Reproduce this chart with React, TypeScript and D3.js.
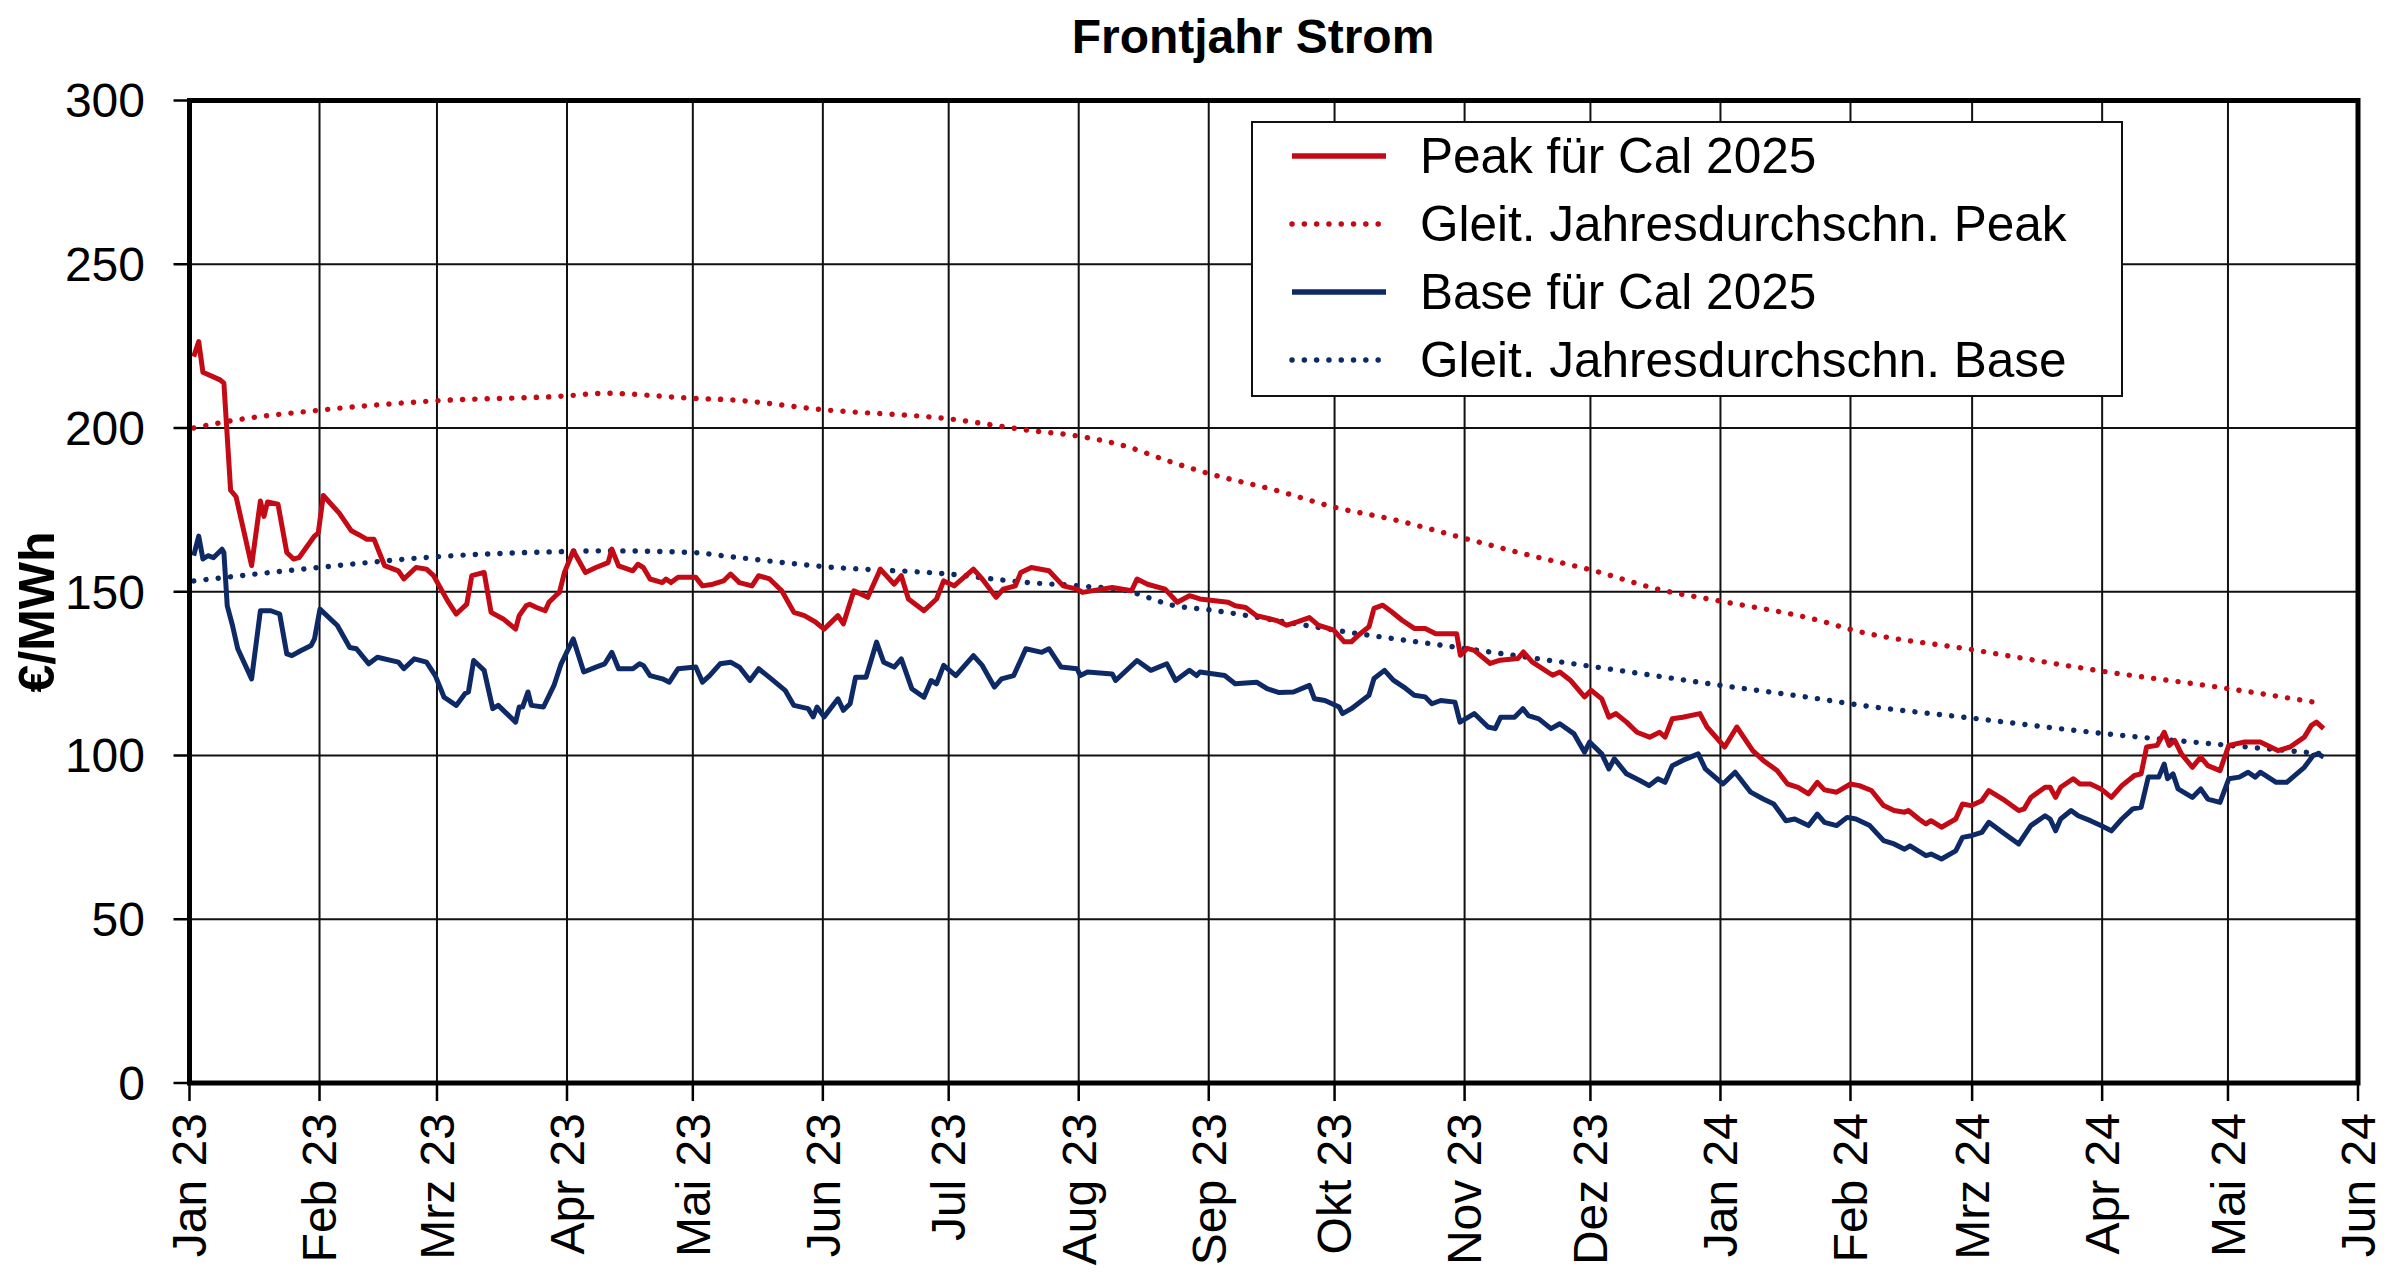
import React from "react";
import * as d3 from "d3";

// ---------- data ----------
// x values are days since 2023-01-01 (UTC), y values in €/MWh
const START = new Date(Date.UTC(2023, 0, 1));
const END = new Date(Date.UTC(2024, 5, 1));

const monthLabels = [
  "Jan 23", "Feb 23", "Mrz 23", "Apr 23", "Mai 23", "Jun 23", "Jul 23", "Aug 23", "Sep 23",
  "Okt 23", "Nov 23", "Dez 23", "Jan 24", "Feb 24", "Mrz 24", "Apr 24", "Mai 24", "Jun 24",
];
const yTicks = [0, 50, 100, 150, 200, 250, 300];

const peakSeries: [number, number][] = [
  [1, 221.8], [2.2, 226.4], [3.2, 217], [7.3, 214.7], [8.2, 213.7], [9.8, 181], [11.1, 179], [14.8, 158],
  [16.9, 177.7], [17.75, 173], [18.6, 177.4], [21.1, 176.7], [23.2, 162], [24.8, 160], [26.1, 160.4],
  [29.8, 167], [30.7, 168], [31.9, 179.4], [35.7, 174], [38.6, 168.6], [40.25, 167.5], [42.3, 166],
  [44, 166], [46.5, 158], [49.8, 156.4], [51.1, 153.9], [54, 157.4], [56.5, 156.9], [58.2, 154.9],
  [61.5, 147.3], [63.6, 143.2], [66.1, 146.2], [67.3, 154.9], [70.25, 155.9], [71.9, 143.7], [74.8, 141.7],
  [77.75, 138.6], [78.6, 142.7], [80.25, 145.7], [81.1, 146.2], [82.75, 145.2], [84.8, 144.2], [85.7, 146.8],
  [87.3, 148.8], [88.2, 149.8], [89.4, 155.9], [91.5, 162.5], [94.4, 155.9], [96.9, 157.4], [99.8, 158.9],
  [100.7, 163], [102.3, 157.9], [105.7, 156.4], [106.9, 158.4], [108.2, 157.4], [109.8, 153.9],
  [112.75, 152.8], [113.6, 153.9], [114.8, 152.8], [116.5, 154.4], [120.7, 154.4], [122.3, 151.8],
  [124.8, 152.3], [127.3, 153.3], [129, 155.4],
  [131.1, 152.8], [134.1, 151.8], [135.7, 154.9], [138.3, 153.9], [141.2, 150.3], [144.1, 143.7],
  [146.6, 142.7], [149.3, 140.7], [151.3, 138.6], [154.6, 142.7], [155.9, 140.2], [158.4, 150.3],
  [161.7, 148.3], [164.7, 156.9], [168, 152.3], [169.7, 154.9], [171.4, 147.8], [175.1, 144.2],
  [178.1, 147.8], [179.8, 153.3], [182.3, 151.8], [186.9, 156.9], [189, 153.9], [192.3, 148.3],
  [194, 150.8], [196.9, 151.8], [198.2, 155.9], [200.7, 157.4], [204.9, 156.4], [208.3, 151.8],
  [211.6, 150.8], [212.9, 149.8], [220, 151.3], [224.6, 150.3], [225.9, 153.9], [228.4, 152.3],
  [232.6, 150.8], [235.5, 146.8], [238.4, 148.8], [240.9, 147.8], [247.6, 146.8], [249.3, 145.7],
  [251.8, 145.2], [254.4, 142.7], [259.2, 141.2],
  [261.6, 139.8], [264.1, 140.8], [267, 142.1], [269.1, 139.8], [272.8, 138.3], [275.3, 134.7],
  [277, 134.7], [279.1, 137.2], [281.2, 139.3], [282.4, 144.9], [284.5, 145.9], [286.6, 143.9],
  [289.1, 141.3], [292, 138.8], [294.6, 138.8], [297.1, 137.2], [302.1, 137.2], [303, 130.6],
  [304.6, 132.7], [306.3, 132.1], [310.1, 128.1], [312.5, 129.1], [316.7, 129.6], [318, 131.6],
  [320.1, 128.6], [323.8, 125.5], [325, 124.5], [326.7, 125.5], [329.2, 123], [332.6, 117.9],
  [334.2, 119.9], [336.7, 117.3], [338.4, 111.7], [340.1, 112.8], [342.6, 110.2], [345.1, 107.1],
  [348.1, 105.6], [350.5, 107.1], [351.8, 105.6], [353.5, 111.2], [356, 111.7], [360.1, 112.8],
  [361.8, 108.7], [366, 102.6], [368.9, 108.7], [372.7, 101.5], [375.2, 98.5], [378.5, 95.4],
  [381, 91.3], [383.5, 90.3], [386, 88.3], [388.1, 91.8], [389.8, 89.5],
  [392.7, 88.8], [396, 91.3], [398.1, 90.8], [401, 89.3], [403.9, 84.7], [406.4, 83.2], [408.9, 82.7],
  [409.8, 83.2], [412.3, 80.6], [414, 79.1], [415.2, 80.1], [417.7, 78.1], [421.1, 80.6], [422.7, 85.2],
  [424.8, 84.7], [427.3, 86.2], [429, 89.3], [432.3, 86.7], [436.1, 83.2], [437.4, 83.7], [439, 87.2],
  [442.4, 90.3], [443.6, 90.3], [444.9, 87.2], [446.1, 90.3], [449.1, 92.9], [450.7, 91.3],
  [453.2, 91.3], [455.7, 89.8], [458.2, 87.2], [460.7, 90.8], [463.7, 93.9], [465.3, 94.4],
  [466.6, 102.6], [469.1, 103.1], [470.8, 107.1], [472, 103.1], [473.3, 104.6], [474.9, 100.5],
  [477.5, 96.4], [479.5, 99.5], [481.2, 96.9], [484.1, 95.4], [486.2, 103.1], [490, 104.1],
  [493.7, 104.1], [497.9, 101.5], [500.8, 102.6], [504.2, 105.6], [505.9, 109.2], [507.1, 110.2],
  [508.8, 108.2],
];

const baseSeries: [number, number][] = [
  [1, 161], [2.2, 167], [3.2, 160], [4.4, 161], [5.7, 160.4], [7.75, 163], [8.2, 162], [9, 145.7],
  [10.25, 139.7], [11.5, 132.6], [14.8, 123.4], [16.9, 144.2], [19.4, 144.2], [21.5, 143.2], [23.2, 131],
  [24.4, 130.5], [26.5, 132], [29, 133.6], [29.8, 135.6], [31.1, 144.7], [35.25, 139.7], [38.2, 133],
  [39.8, 132.6], [42.75, 128], [44.8, 130], [49.8, 128.5], [51.1, 126.5], [53.6, 129.5], [56.5, 128.5],
  [58.6, 124.4], [60.7, 117.8], [63.6, 115.3], [65.7, 118.9], [66.5, 119.4], [67.75, 129], [70.25, 126],
  [72.3, 114.3], [73.6, 115.3], [77.75, 110.2], [78.6, 114.8], [79.4, 114.8], [80.7, 119.4], [81.5, 115.3],
  [84.4, 114.8], [86.9, 121.4], [88.6, 128], [91.5, 135.6], [94, 125.5], [96.9, 127], [99, 128],
  [100.7, 131.5], [102.3, 126.5], [105.7, 126.5], [107.3, 128], [108.2, 127.5], [109.8, 124.4],
  [112.75, 123.4], [114.4, 122.4], [116.5, 126.5], [120.7, 127], [122.3, 122.4], [124, 124.4],
  [126.5, 128], [129, 128.5],
  [131.1, 127], [133.6, 122.9], [135.7, 126.5], [138.7, 123.4], [142, 119.9], [144.1, 115.3],
  [147.5, 114.3], [148.7, 111.8], [149.6, 114.8], [151.3, 111.8], [154.6, 117.3], [155.9, 113.8],
  [157.5, 115.8], [158.8, 123.9], [161.3, 123.9], [163.8, 134.6], [165.5, 128.5], [168, 127],
  [169.7, 129.5], [172.2, 120.4], [175.1, 117.8], [176.8, 122.9], [178.1, 121.9], [179.8, 127.5],
  [182.7, 124.4], [186.9, 130.5], [189, 127.5], [191.9, 120.9], [193.6, 123.4], [196.5, 124.4],
  [199.4, 132.6], [203.2, 131.5], [204.9, 132.6], [207.8, 127], [211.6, 126.5], [212.4, 124.4],
  [214.1, 125.5], [220, 124.9], [220.8, 122.9], [225.9, 129], [229.2, 126], [233, 128], [235.1, 122.9],
  [238.4, 126], [240.1, 124.4], [240.9, 125.5], [246.8, 124.4], [249.3, 121.9], [254.4, 122.4],
  [256.9, 120.4], [259.8, 119.2],
  [263.2, 119.4], [267, 121.4], [268.2, 117.3], [270.7, 116.8], [274.1, 114.8], [274.9, 112.8],
  [277, 114.3], [281.2, 118.4], [282.4, 123.5], [284.9, 126], [287, 123], [289.5, 120.9], [292, 118.4],
  [294.6, 117.9], [296.2, 115.8], [298.3, 116.8], [301.7, 116.3], [302.9, 110.2], [306.3, 112.8],
  [309.6, 108.7], [311.3, 108.2], [312.6, 111.7], [315.9, 111.7], [317.9, 114.3], [319.2, 112.2],
  [321.7, 111.2], [324.6, 108.2], [326.7, 109.7], [330.1, 106.6], [332.6, 101], [333.8, 104.1],
  [336.7, 100.5], [338.4, 95.9], [339.7, 99], [342.6, 94.4], [345.9, 92.3], [348, 90.8], [350.1, 92.9],
  [351.8, 91.8], [353.5, 96.9], [356, 98.5], [359.7, 100.5], [361.4, 95.9], [365.6, 91.3], [368.5, 94.9],
  [372.2, 88.8], [375.2, 86.7], [377.7, 85.2], [380.6, 80.1], [382.7, 80.6], [386, 78.6], [388.1, 82.1],
  [389.8, 79.6],
  [392.7, 78.6], [395.2, 81.1], [397.3, 80.6], [400.6, 78.6], [403.9, 74], [406.4, 73], [408.9, 71.4],
  [410.2, 72.4], [414, 69.4], [415.2, 69.9], [417.7, 68.4], [421.1, 70.9], [422.7, 75], [424.8, 75.5],
  [427.3, 76.5], [429, 79.6], [432.3, 76.5], [436.1, 73], [439, 78.6], [442.4, 81.6], [443.6, 80.6],
  [444.9, 77], [446.1, 80.6], [448.6, 83.2], [450.3, 81.6], [453.2, 80.1], [455.7, 78.6], [458.2, 77],
  [460.7, 80.6], [463.3, 83.7], [465.3, 84.2], [467, 93.4], [469.5, 93.4], [470.8, 97.4], [471.6, 92.9],
  [472.9, 94.4], [474.1, 89.8], [477.5, 87.2], [479.5, 89.8], [481.2, 86.7], [484.1, 85.7], [486.2, 92.9],
  [488.7, 93.4], [490.8, 94.9], [492.5, 93.4], [493.7, 94.9], [497.5, 91.8], [500, 91.8], [504.2, 96.4],
  [506.3, 100], [507.5, 100.5], [508.8, 99.5],
];

const peakAvgSeries: [number, number][] = [
  [1, 200], [9, 202], [30.7, 205.4], [58.6, 208.3], [89.8, 209.8], [99, 210.6], [119.8, 209.1],
  [129, 208.6], [151, 205.6], [181, 202.8], [200.7, 199.2], [212, 197.5], [223.3, 194.4], [233.4, 189.9],
  [243, 186.1], [259.2, 180.9], [273, 175.8], [287.5, 171.9], [304, 166.3], [319.3, 161.2],
  [334.3, 156.6], [351, 150.5], [365.2, 147.1], [389.2, 141], [396, 138.5], [425, 132.3],
  [455.7, 125.8], [486.2, 120.4], [508.8, 115.8],
];

const baseAvgSeries: [number, number][] = [
  [1, 153.3], [30.7, 157.4], [59, 160.7], [89.8, 162.3], [99, 162.5], [119.8, 162], [129, 160.7],
  [151, 157.7], [181, 155.4], [199.9, 152.8], [212, 151.8], [223.3, 150.3], [235, 145.7], [243, 144.5],
  [259.2, 141.2], [273, 138.3], [304, 132.7], [334.3, 127.2], [365.2, 121.4], [389.5, 117.1],
  [396, 115.8], [425, 111.4], [455.7, 106.8], [486.2, 103.1], [508.8, 100.5],
];

const legendLabels = [
  "Peak für Cal 2025",
  "Gleit. Jahresdurchschn. Peak",
  "Base für Cal 2025",
  "Gleit. Jahresdurchschn. Base",
];

// ---------- styling ----------
const RED = "#C40A14";
const NAVY = "#0E2A66";
const FONT = "'Liberation Sans', Arial, Helvetica, sans-serif";
const DOT = { strokeWidth: 5.4, strokeDasharray: "0.1 12.2", strokeLinecap: "round" as const };

export default function App() {
  const W = 2400;
  const H = 1281;
  const left = 189.5;
  const right = 2358;
  const top = 100.5;
  const bottom = 1083;

  const x = d3.scaleUtc().domain([START, END]).range([left, right]);
  const y = d3.scaleLinear().domain([0, 300]).range([bottom, top]);
  const toDate = (d: number) => new Date(START.getTime() + d * 86400000);

  const line = d3
    .line<[number, number]>()
    .x((d) => x(toDate(d[0])))
    .y((d) => y(d[1]));
  const smooth = d3
    .line<[number, number]>()
    .x((d) => x(toDate(d[0])))
    .y((d) => y(d[1]))
    .curve(d3.curveMonotoneX);

  const months = d3.utcMonth.range(START, d3.utcMonth.offset(END, 1));

  const series = [
    { label: legendLabels[0], color: RED, dotted: false },
    { label: legendLabels[1], color: RED, dotted: true },
    { label: legendLabels[2], color: NAVY, dotted: false },
    { label: legendLabels[3], color: NAVY, dotted: true },
  ];

  const lgX = 1252;
  const lgY = 122;
  const lgW = 870;
  const lgH = 274;
  const rowH = 68;

  return (
    <svg
      width={W}
      height={H}
      viewBox={`0 0 ${W} ${H}`}
      style={{ position: "absolute", left: 0, top: 0, background: "#fff" }}
      fontFamily={FONT}
    >
      <rect x={0} y={0} width={W} height={H} fill="#fff" />

      {/* title */}
      <text x={1253} y={53} textAnchor="middle" fontSize={48} fontWeight="bold" fill="#000">
        Frontjahr Strom
      </text>

      {/* horizontal grid */}
      {yTicks.slice(1, -1).map((t) => (
        <line key={"hg" + t} x1={left} x2={right} y1={y(t)} y2={y(t)} stroke="#111" strokeWidth={2} />
      ))}
      {/* vertical grid */}
      {months.slice(1, -1).map((m, i) => (
        <line key={"vg" + i} x1={x(m)} x2={x(m)} y1={top} y2={bottom} stroke="#111" strokeWidth={2} />
      ))}

      {/* y ticks + labels */}
      {yTicks.map((t) => (
        <g key={"yt" + t}>
          <line x1={left - 16} x2={left} y1={y(t)} y2={y(t)} stroke="#000" strokeWidth={2.5} />
          <text x={145} y={y(t)} dy="0.35em" textAnchor="end" fontSize={48} fill="#000">
            {t}
          </text>
        </g>
      ))}

      {/* x ticks + labels */}
      {months.map((m, i) => (
        <g key={"xt" + i}>
          <line x1={x(m)} x2={x(m)} y1={bottom} y2={bottom + 18} stroke="#000" strokeWidth={2.5} />
          <text
            transform={`translate(${x(m)},${1113}) rotate(-90)`}
            dy="0.35em"
            textAnchor="end"
            fontSize={48}
            fill="#000"
          >
            {monthLabels[i]}
          </text>
        </g>
      ))}

      {/* y axis title */}
      <text
        transform={`translate(54,612) rotate(-90)`}
        textAnchor="middle"
        fontSize={50}
        fontWeight="bold"
        fill="#000"
      >
        €/MWh
      </text>

      {/* data */}
      <path d={smooth(peakAvgSeries) || ""} fill="none" stroke={RED} {...DOT} />
      <path d={smooth(baseAvgSeries) || ""} fill="none" stroke={NAVY} {...DOT} />
      <path d={line(baseSeries) || ""} fill="none" stroke={NAVY} strokeWidth={5} strokeLinejoin="round" />
      <path d={line(peakSeries) || ""} fill="none" stroke={RED} strokeWidth={5} strokeLinejoin="round" />

      {/* frame */}
      <rect x={left} y={top} width={right - left} height={bottom - top} fill="none" stroke="#000" strokeWidth={5} />

      {/* legend */}
      <rect x={lgX} y={lgY} width={lgW} height={lgH} fill="#fff" stroke="#111" strokeWidth={2} />
      {series.map((s, i) => {
        const cy = lgY + 34 + i * rowH;
        return (
          <g key={"lg" + i}>
            <line
              x1={lgX + 40}
              x2={lgX + 134}
              y1={cy}
              y2={cy}
              stroke={s.color}
              {...(s.dotted ? DOT : { strokeWidth: 5.5 })}
            />
            <text x={lgX + 168} y={cy} dy="0.35em" fontSize={49.5} fill="#000">
              {s.label}
            </text>
          </g>
        );
      })}
    </svg>
  );
}
